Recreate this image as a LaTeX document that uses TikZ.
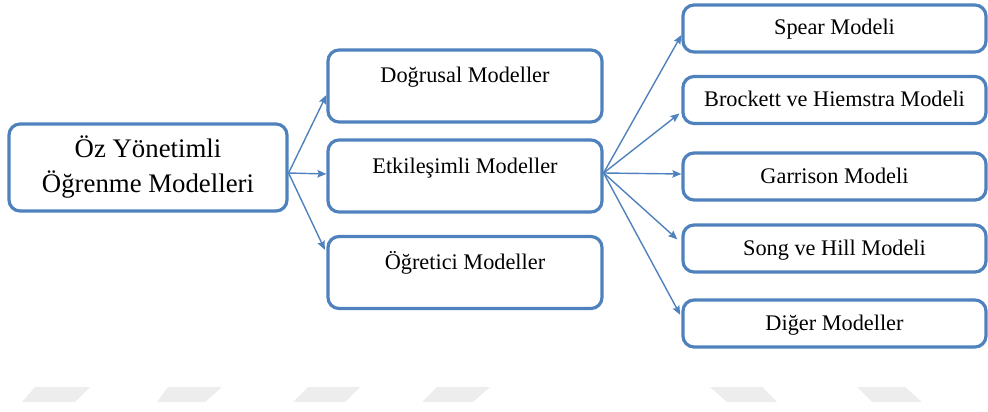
\documentclass[tikz,border=0pt]{standalone}
\usepackage{fontspec}
\setmainfont{Liberation Serif}
\usetikzlibrary{arrows.meta, positioning}
\definecolor{kutumavi}{RGB}{79,129,189}

\begin{document}
\begin{tikzpicture}[x=1pt, y=-1pt,
		kutu/.style={draw=kutumavi, line width=3.2pt, rounded corners=11pt, inner sep=0pt},
		ana/.style={kutu, align=center, minimum width=278pt, minimum height=87pt, font=\fontsize{26.8}{35}\selectfont},
		orta/.style={kutu, minimum width=274pt, text height=33pt, text depth=39pt, font=\fontsize{22.3}{27}\selectfont},
		alt/.style={kutu, minimum width=303pt, text height=30pt, text depth=17pt, font=\fontsize{22.3}{27}\selectfont},
		ok/.style={draw=kutumavi, line width=1.4pt, -{Stealth[length=9pt, width=7.5pt, inset=1.5pt]}},
		filigran/.style={fill=black!7, draw=none}]
			\useasboundingbox (0,0) rectangle (988,412);
			% 背景水印
			\foreach \a/\b/\c/\d in {35/90/75/22, 168/222/205/157, 308/360/345/293, 437/490/473/422} {
				\fill[filigran] (\a,387) -- (\b,387) -- (\c,402) -- (\d,402) -- cycle;
			}
			\foreach \a/\b/\c/\d in {710/762/777/727, 857/905/922/872} {
				\fill[filigran] (\a,387) -- (\b,387) -- (\c,402) -- (\d,402) -- cycle;
			}
			% 主框
			\node[ana] (oz) at (148,167.5) {Öz Yönetimli\\Öğrenme Modelleri};
			% 中间三框
			\node[orta] (dogrusal) at (465,86) {Doğrusal Modeller};
			\node[orta] (etkilesimli) at (465,176) {Etkileşimli Modeller};
			\node[orta] (ogretici) at (465,272.5) {Öğretici Modeller};
			% 右侧五框
			\node[alt] (spear) at (834.5,28.5) {Spear Modeli};
			\node[alt] (brockett) at (834.5,100) {Brockett ve Hiemstra Modeli};
			\node[alt] (garrison) at (834.5,176.5) {Garrison Modeli};
			\node[alt] (song) at (834.5,248.5) {Song ve Hill Modeli};
			\node[alt] (diger) at (834.5,323.5) {Diğer Modeller};
			% 箭头
			\foreach \hedef/\kay/\kisa in {dogrusal/-9/0, etkilesimli/2/0, ogretici/19.5/3.5} {
				\draw[ok, shorten >=\kisa pt] ([yshift=-5.5pt]oz.east) -- ([yshift=\kay pt]\hedef.west);
			}
			\foreach \hedef/\kay/\kisa in {spear/-6.5/0, brockett/-12/2.5, garrison/2.5/0, song/5.5/5.5, diger/6.5/2.5} {
				\draw[ok, shorten >=\kisa pt] ([yshift=3pt]etkilesimli.east) -- ([yshift=\kay pt]\hedef.west);
			}
\end{tikzpicture}
\end{document}
